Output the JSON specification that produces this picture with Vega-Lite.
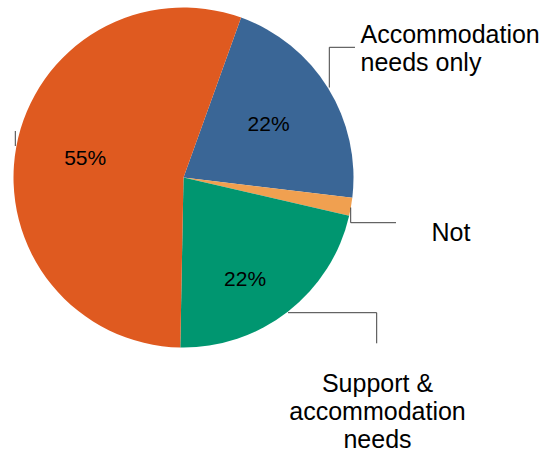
{
  "$schema": "https://vega.github.io/schema/vega-lite/v6.json",
  "autosize": {"type": "none"},
  "width": 367,
  "height": 355,
  "padding": {"left": 0, "top": 0, "right": 189, "bottom": 99},
  "background": "white",
  "config": {"view": {"stroke": null}, "font": "Liberation Sans"},
  "data": {
    "values": [
      {"category": "Accommodation needs only", "value": 21.4, "rank": 1, "label": "22%"},
      {"category": "Not", "value": 1.7, "rank": 2, "label": ""},
      {"category": "Support & accommodation needs", "value": 21.7, "rank": 3, "label": "22%"},
      {"category": "Other", "value": 55.2, "rank": 4, "label": "55%"}
    ]
  },
  "layer": [
    {
      "mark": {"type": "arc", "outerRadius": 170},
      "encoding": {
        "theta": {"field": "value", "type": "quantitative", "stack": true, "scale": {"range": [0.3456, 6.6288]}},
        "order": {"field": "rank", "type": "quantitative"},
        "color": {
          "field": "category", "type": "nominal", "legend": null,
          "scale": {
            "domain": ["Accommodation needs only", "Not", "Support & accommodation needs", "Other"],
            "range": ["#3A6696", "#F0A050", "#009670", "#DF5A20"]
          }
        }
      }
    },
    {
      "mark": {"type": "text", "radius": 100, "fontSize": 21, "font": "Liberation Sans", "color": "black", "baseline": "middle", "align": "center"},
      "encoding": {
        "theta": {"field": "value", "type": "quantitative", "stack": true, "scale": {"range": [0.3456, 6.6288]}},
        "order": {"field": "rank", "type": "quantitative"},
        "text": {"condition": {"test": "datum.category !== 'Support & accommodation needs'", "field": "label", "type": "nominal"}, "value": ""}
      }
    },
    {
      "mark": {"type": "text", "radius": 100, "dy": 24, "fontSize": 21, "font": "Liberation Sans", "color": "black", "baseline": "middle", "align": "center"},
      "encoding": {
        "theta": {"field": "value", "type": "quantitative", "stack": true, "scale": {"range": [0.3456, 6.6288]}},
        "order": {"field": "rank", "type": "quantitative"},
        "text": {"condition": {"test": "datum.category === 'Support & accommodation needs'", "field": "label", "type": "nominal"}, "value": ""}
      }
    },
    {
      "data": {
        "values": [
          {"x": 329.3, "y": 87.5, "x2": 329.3, "y2": 47.3},
          {"x": 329.3, "y": 47.3, "x2": 355, "y2": 47.3},
          {"x": 350.7, "y": 207.5, "x2": 350.7, "y2": 222.7},
          {"x": 350.7, "y": 222.7, "x2": 396, "y2": 222.7},
          {"x": 288, "y": 312.7, "x2": 376.7, "y2": 312.7},
          {"x": 376.7, "y": 312.7, "x2": 376.7, "y2": 343.3},
          {"x": 15.3, "y": 131, "x2": 15.3, "y2": 146}
        ]
      },
      "mark": {"type": "rule", "color": "#404040", "strokeWidth": 1},
      "encoding": {
        "x": {"field": "x", "type": "quantitative", "axis": null, "scale": {"domain": [0, 367], "nice": false, "zero": false}},
        "y": {"field": "y", "type": "quantitative", "axis": null, "scale": {"domain": [0, 355], "nice": false, "zero": false, "reverse": true}},
        "x2": {"field": "x2"},
        "y2": {"field": "y2"}
      }
    },
    {
      "data": {
        "values": [
          {"x": 360.5, "y": 42.7, "text": ["Accommodation", "needs only"]},
          {"x": 431.5, "y": 241, "text": ["Not"]}
        ]
      },
      "mark": {"type": "text", "align": "left", "baseline": "alphabetic", "fontSize": 25, "lineHeight": 28, "font": "Liberation Sans", "color": "black"},
      "encoding": {
        "x": {"field": "x", "type": "quantitative", "axis": null, "scale": {"domain": [0, 367], "nice": false, "zero": false}},
        "y": {"field": "y", "type": "quantitative", "axis": null, "scale": {"domain": [0, 355], "nice": false, "zero": false, "reverse": true}},
        "text": {"field": "text"}
      }
    },
    {
      "data": {
        "values": [
          {"x": 377.5, "y": 391.5, "text": ["Support &", "accommodation", "needs"]}
        ]
      },
      "mark": {"type": "text", "align": "center", "baseline": "alphabetic", "fontSize": 25, "lineHeight": 28, "font": "Liberation Sans", "color": "black"},
      "encoding": {
        "x": {"field": "x", "type": "quantitative", "axis": null, "scale": {"domain": [0, 367], "nice": false, "zero": false}},
        "y": {"field": "y", "type": "quantitative", "axis": null, "scale": {"domain": [0, 355], "nice": false, "zero": false, "reverse": true}},
        "text": {"field": "text"}
      }
    }
  ]
}
